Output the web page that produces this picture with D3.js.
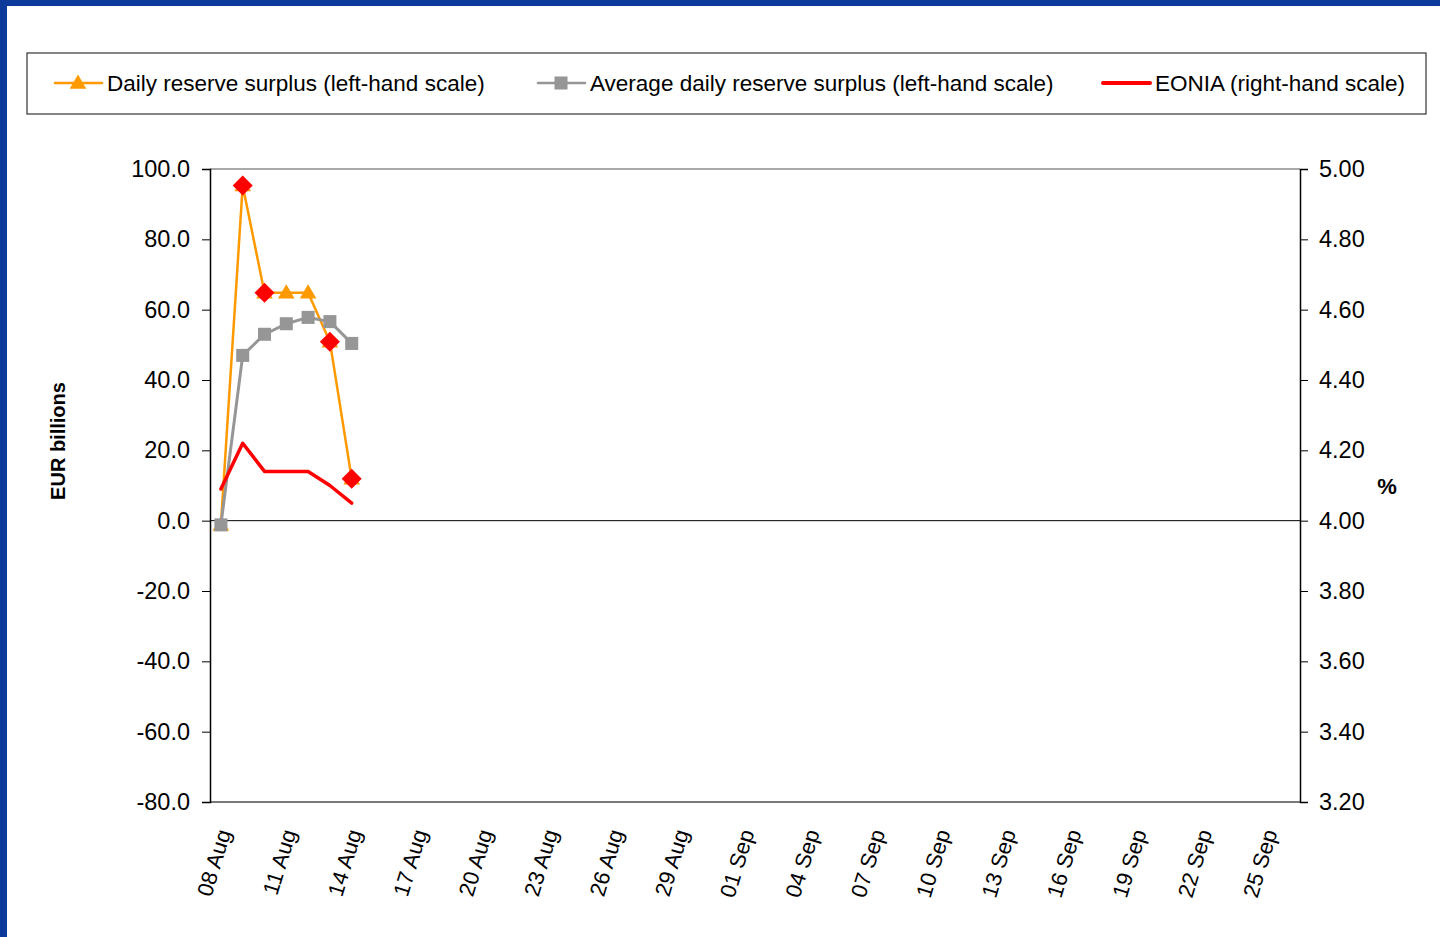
<!DOCTYPE html>
<html>
<head>
<meta charset="utf-8">
<script src="https://cdn.jsdelivr.net/npm/d3@7"></script>
<style>
  html, body { margin: 0; padding: 0; background: #ffffff; }
  svg { display: block; font-family: "Liberation Sans", Arial, sans-serif; }
</style>
</head>
<body>
<svg id="chart" width="1440" height="937"></svg>
<script>
// Reporting window: 08 Aug to 26 Sep, one category per calendar day
const startDay = new Date(2007, 7, 8);
const endDay = new Date(2007, 8, 27);

// Observed days
const obsDates = ["08 Aug", "09 Aug", "10 Aug", "11 Aug", "12 Aug", "13 Aug", "14 Aug"];
// Daily reserve surplus, EUR billions
const dailySurplus = [-1.2, 95.3, 64.8, 64.8, 64.8, 50.9, 11.9];
// Average daily reserve surplus, EUR billions
const avgSurplus = [-1.2, 47.0, 53.0, 56.0, 57.8, 56.6, 50.4];
// EONIA, %
const eonia = [4.09, 4.22, 4.14, 4.14, 4.14, 4.10, 4.05];
// Days flagged on the daily surplus line
const flaggedDates = ["09 Aug", "10 Aug", "13 Aug", "14 Aug"];

const leftTicks = [100, 80, 60, 40, 20, 0, -20, -40, -60, -80];
const rightTicks = [5.0, 4.8, 4.6, 4.4, 4.2, 4.0, 3.8, 3.6, 3.4, 3.2];

const legendItems = [
  { label: "Daily reserve surplus (left-hand scale)", kind: "triangle", color: "#ff9900" },
  { label: "Average daily reserve surplus (left-hand scale)", kind: "square", color: "#969696" },
  { label: "EONIA (right-hand scale)", kind: "line", color: "#ff0000" }
];

const fmtDay = d3.timeFormat("%d %b");
const categories = d3.timeDay.range(startDay, endDay).map(fmtDay);

// Plain hyphen for negative numbers
const fmt1 = v => d3.format(".1f")(v).replace("\u2212", "-");
const fmt2 = v => d3.format(".2f")(v).replace("\u2212", "-");

const svg = d3.select("#chart");

// Blue slide frame on the top and left edges
svg.append("rect").attr("x", 0).attr("y", 0).attr("width", 1440).attr("height", 6).attr("fill", "#0b3a9b");
svg.append("rect").attr("x", 0).attr("y", 0).attr("width", 7).attr("height", 937).attr("fill", "#0b3a9b");

const plot = { left: 210, right: 1300, top: 169, bottom: 802 };

const x = d3.scaleBand().domain(categories).range([plot.left, plot.right]).padding(0);
const cx = d => x(d) + x.bandwidth() / 2;
const yL = d3.scaleLinear().domain([-80, 100]).range([plot.bottom, plot.top]);
const yR = d3.scaleLinear().domain([3.2, 5.0]).range([plot.bottom, plot.top]);

// Plot area frame: grey top and bottom edges
svg.append("line").attr("x1", plot.left).attr("x2", plot.right).attr("y1", plot.top).attr("y2", plot.top)
  .attr("stroke", "#8c8c8c").attr("stroke-width", 1.5);
svg.append("line").attr("x1", plot.left).attr("x2", plot.right).attr("y1", plot.bottom).attr("y2", plot.bottom)
  .attr("stroke", "#7a7a7a").attr("stroke-width", 2);

// Left axis
const leftAxis = svg.append("g").attr("transform", `translate(${plot.left},0)`)
  .call(d3.axisLeft(yL).tickValues(leftTicks).tickFormat(fmt1).tickSize(8).tickPadding(12));
leftAxis.select(".domain").attr("stroke", "#000").attr("stroke-width", 1.5);
leftAxis.selectAll(".tick line").attr("stroke", "#000").attr("stroke-width", 1);
leftAxis.selectAll("text").attr("font-size", 23.5).attr("fill", "#000").attr("font-family", "Liberation Sans, Arial, sans-serif");

// Right axis
const rightAxis = svg.append("g").attr("transform", `translate(${plot.right},0)`)
  .call(d3.axisRight(yR).tickValues(rightTicks).tickFormat(fmt2).tickSize(8).tickPadding(11));
rightAxis.select(".domain").attr("stroke", "#000").attr("stroke-width", 1.5);
rightAxis.selectAll(".tick line").attr("stroke", "#000").attr("stroke-width", 1);
rightAxis.selectAll("text").attr("font-size", 23.5).attr("fill", "#000").attr("font-family", "Liberation Sans, Arial, sans-serif");

// Zero line
svg.append("line").attr("x1", plot.left).attr("x2", plot.right).attr("y1", yL(0)).attr("y2", yL(0))
  .attr("stroke", "#000").attr("stroke-width", 1);

// Date labels, every third day, slanted
const xLabels = categories.filter((d, i) => i % 3 === 0);
svg.append("g").selectAll("text").data(xLabels).join("text")
  .attr("transform", d => `translate(${cx(d) + 3},${plot.bottom + 28}) rotate(-73)`)
  .attr("text-anchor", "end")
  .attr("dy", "0.35em")
  .attr("font-size", 22)
  .attr("fill", "#000")
  .text(d => d);

// Axis titles
svg.append("text")
  .attr("transform", `translate(${65},${441}) rotate(-90)`)
  .attr("text-anchor", "middle")
  .attr("font-size", 20).attr("font-weight", "bold")
  .text("EUR billions");
svg.append("text")
  .attr("x", 1387).attr("y", 494)
  .attr("text-anchor", "middle")
  .attr("font-size", 22).attr("font-weight", "bold")
  .text("%");

// Series
const daily = obsDates.map((d, i) => ({ d, v: dailySurplus[i] }));
const avg = obsDates.map((d, i) => ({ d, v: avgSurplus[i] }));
const rate = obsDates.map((d, i) => ({ d, v: eonia[i] }));

const lineL = d3.line().x(p => cx(p.d)).y(p => yL(p.v));
const lineR = d3.line().x(p => cx(p.d)).y(p => yR(p.v));

const tri = d3.symbol().type(d3.symbolTriangle).size(120);
const sq = d3.symbol().type(d3.symbolSquare).size(170);
const dia = d3.symbol().type(d3.symbolSquare).size(200);

// Daily reserve surplus
svg.append("path").datum(daily).attr("d", lineL)
  .attr("fill", "none").attr("stroke", "#ff9900").attr("stroke-width", 2.5).attr("stroke-linejoin", "round");
svg.append("g").selectAll("path").data(daily).join("path")
  .attr("d", tri)
  .attr("transform", p => `translate(${cx(p.d)},${yL(p.v) + 1})`)
  .attr("fill", "#ff9900");

// Average daily reserve surplus
svg.append("path").datum(avg).attr("d", lineL)
  .attr("fill", "none").attr("stroke", "#969696").attr("stroke-width", 3).attr("stroke-linejoin", "round");
svg.append("g").selectAll("path").data(avg).join("path")
  .attr("d", sq)
  .attr("transform", p => `translate(${cx(p.d)},${yL(p.v)})`)
  .attr("fill", "#969696");

// EONIA
svg.append("path").datum(rate).attr("d", lineR)
  .attr("fill", "none").attr("stroke", "#ff0000").attr("stroke-width", 3.5).attr("stroke-linejoin", "round").attr("stroke-linecap", "round");

// Flagged days on the daily surplus line
const flagged = daily.filter(p => flaggedDates.includes(p.d));
svg.append("g").selectAll("path").data(flagged).join("path")
  .attr("d", dia)
  .attr("transform", p => `translate(${cx(p.d)},${yL(p.v)}) rotate(45)`)
  .attr("fill", "#ff0000");

// Legend
const legend = svg.append("g");
legend.append("rect").attr("x", 27).attr("y", 53).attr("width", 1399).attr("height", 61)
  .attr("fill", "#fff").attr("stroke", "#333").attr("stroke-width", 1.2);
const legendX = [55, 538, 1103];
legendItems.forEach((it, i) => {
  const g = legend.append("g").attr("transform", `translate(${legendX[i]},83)`);
  g.append("line").attr("x1", 0).attr("x2", 47).attr("y1", 0).attr("y2", 0)
    .attr("stroke", it.color).attr("stroke-width", it.kind === "line" ? 4 : 2.5).attr("stroke-linecap", "round");
  if (it.kind === "triangle") g.append("path").attr("d", tri).attr("transform", "translate(23,1)").attr("fill", it.color);
  if (it.kind === "square") g.append("path").attr("d", sq).attr("transform", "translate(23,0)").attr("fill", it.color);
  g.append("text").attr("x", 52).attr("y", 8).attr("font-size", 22.5).attr("fill", "#000").text(it.label);
});
</script>
</body>
</html>
